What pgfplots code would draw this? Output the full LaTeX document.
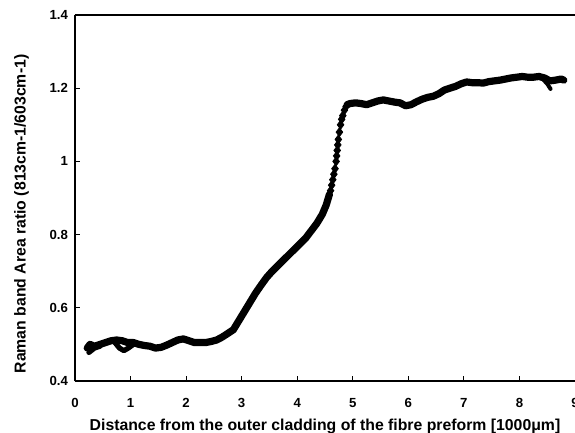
\documentclass[border=0pt]{standalone}
\usepackage{fontspec}
\setmainfont{Liberation Sans}
\usepackage{pgfplots}
\pgfplotsset{compat=1.18}
\begin{document}
\begin{tikzpicture}
\begin{axis}[
  width=250pt, height=183pt, scale only axis,
  xmin=0, xmax=9, ymin=0.4, ymax=1.4,
  axis x line*=bottom, axis y line*=left,
  axis line style={line width=0.8pt},
  xtick={0,1,...,9}, ytick={0.4,0.6,0.8,1,1.2,1.4},
  yticklabels={0.4,0.6,0.8,1,1.2,1.4},
  tick align=inside, major tick length=2.5pt,
  tick style={black, line width=0.5pt},
  /pgf/number format/assume math mode=true,
  ticklabel style={font=\fontsize{6.6}{7}\selectfont\bfseries},
  xticklabel style={yshift=-5pt},
  xlabel={Distance from the outer cladding of the fibre preform [1000μm]},
  ylabel={Raman band Area ratio (813cm-1/603cm-1)},
  label style={font=\fontsize{7.9}{9}\selectfont\bfseries},
  xlabel style={yshift=1pt},
  ylabel style={yshift=3.5pt, xshift=-8pt},
  clip=false,
]
\draw[line width=0.8pt] (rel axis cs:0,1) -- (rel axis cs:1,1);
% main trace
\addplot[black, line width=3.6pt, line join=round, line cap=round] coordinates {
(0.22,0.49) (0.27,0.50) (0.35,0.495) (0.45,0.50) (0.55,0.505) (0.65,0.51)
(0.75,0.512) (0.85,0.51) (0.95,0.505) (1.05,0.505) (1.15,0.50) (1.25,0.497)
(1.35,0.495) (1.45,0.49) (1.55,0.492) (1.65,0.498) (1.75,0.505) (1.85,0.512)
(1.95,0.515) (2.05,0.51) (2.15,0.505) (2.25,0.505) (2.35,0.505) (2.45,0.508)
(2.55,0.512) (2.65,0.52) (2.75,0.53) (2.85,0.54) (2.95,0.565) (3.05,0.59)
(3.15,0.615) (3.25,0.64) (3.35,0.662) (3.45,0.683) (3.55,0.70) (3.65,0.715)
(3.75,0.73) (3.85,0.745) (3.95,0.76) (4.05,0.775) (4.15,0.79) (4.25,0.81)
(4.35,0.83) (4.45,0.855) (4.52,0.88) (4.58,0.91)
};
% lower branches
\addplot[black, line width=2.6pt, line join=round, line cap=round] coordinates {
(0.25,0.478) (0.35,0.49) (0.45,0.495)
};
\addplot[black, line width=2.6pt, line join=round, line cap=round] coordinates {
(0.72,0.505) (0.8,0.49) (0.88,0.483) (0.96,0.49) (1.05,0.50)
};
% steep part
\addplot[black, only marks, mark=diamond*, mark size=2.2pt] coordinates {
(4.60,0.92) (4.62,0.935) (4.64,0.95) (4.66,0.965) (4.68,0.98) (4.70,1.00)
(4.71,1.015) (4.72,1.03) (4.73,1.045) (4.74,1.06) (4.76,1.08) (4.78,1.10)
(4.80,1.115) (4.82,1.125) (4.85,1.14) (4.88,1.15)
};
% plateau
\addplot[black, line width=3.6pt, line join=round, line cap=round] coordinates {
(4.90,1.155) (4.95,1.158) (5.05,1.16) (5.15,1.158) (5.25,1.155) (5.35,1.16)
(5.45,1.165) (5.55,1.168) (5.65,1.165) (5.75,1.162) (5.85,1.16) (5.95,1.152)
(6.05,1.155) (6.15,1.163) (6.25,1.17) (6.35,1.175) (6.45,1.178) (6.55,1.185)
(6.65,1.195) (6.75,1.20) (6.85,1.205) (6.95,1.212) (7.05,1.217) (7.15,1.215)
(7.25,1.215) (7.35,1.214) (7.45,1.218) (7.55,1.22) (7.65,1.222) (7.75,1.225)
(7.85,1.228) (7.95,1.23) (8.05,1.232) (8.15,1.23) (8.25,1.23) (8.35,1.232)
(8.45,1.228) (8.55,1.22) (8.65,1.222) (8.75,1.225) (8.80,1.222)
};
\addplot[black, line width=2pt, line join=round, line cap=round] coordinates {
(8.42,1.225) (8.50,1.212) (8.56,1.198)
};
\end{axis}
\pgfresetboundingbox
\useasboundingbox ([xshift=-37.5pt,yshift=-25.5pt]current axis.south west) rectangle ([yshift=7.5pt]current axis.north east);
\end{tikzpicture}
\end{document}
